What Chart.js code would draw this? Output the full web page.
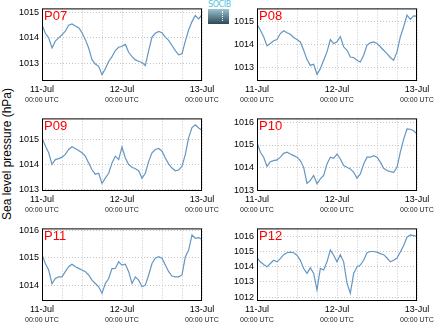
<!DOCTYPE html>
<html>
<head>
<meta charset="utf-8">
<script src="https://cdn.jsdelivr.net/npm/chart.js@4.4.1/dist/chart.umd.min.js"></script>
<style>
  body { margin: 0; background: #fff; width: 435px; height: 327px; position: relative; overflow: hidden; font-family: "Liberation Sans", Arial, sans-serif; }
  .panel { position: absolute; width: 212px; height: 110px; }
  #ylabel { position: absolute; left: 7px; top: 154px; transform: translate(-50%, -50%) rotate(-90deg); font-size: 12px; white-space: nowrap; color: #000; }
  #logo { position: absolute; left: 208px; top: 1px; width: 21px; }
  #logo span { display: block; font: 8px "DejaVu Sans", sans-serif; line-height: 8px; color: #4cc4e0; text-align: center; letter-spacing: -0.4px; }
  #logo div { position: relative; height: 15px; background: linear-gradient(#9cc3cf, #2c4758); }
  #logo div::after { content: ""; position: absolute; left: 14px; top: 2px; height: 10px; border-left: 1px dotted #fff; }
</style>
</head>
<body>
<div id="ylabel">Sea level pressure (hPa)</div>
<div id="logo"><span>SOCIB</span><div></div></div>
<canvas class="panel" id="c0" width="212" height="110" style="left:15px;top:0px"></canvas>
<canvas class="panel" id="c1" width="212" height="110" style="left:230px;top:0px"></canvas>
<canvas class="panel" id="c2" width="212" height="110" style="left:15px;top:110px"></canvas>
<canvas class="panel" id="c3" width="212" height="110" style="left:230px;top:110px"></canvas>
<canvas class="panel" id="c4" width="212" height="110" style="left:15px;top:220px"></canvas>
<canvas class="panel" id="c5" width="212" height="110" style="left:230px;top:220px"></canvas>
<script>
// hours since 11-Jul 00:00 UTC
const hours = [0,1,2,3,4,5,6,7,8,9,10,11,12,13,14,15,16,17,18,19,20,21,22,23,24,
  25,26,27,28,29,30,31,32,33,34,35,36,37,38,39,40,41,42,43,44,45,46,47,48];
const gridHours = [0, 6, 12, 18, 24, 30, 36, 42, 48];
const dayHours = [0, 24, 48];
const dayLabels = ['11-Jul', '12-Jul', '13-Jul'];
const timeLabel = '00:00 UTC';
const stations = ['P07', 'P08', 'P09', 'P10', 'P11', 'P12'];

// sea level pressure, hPa, hourly
const p07 = [1014.53,1014.18,1014.00,1013.60,1013.87,1014.00,1014.12,1014.26,1014.50,1014.55,
  1014.47,1014.40,1014.20,1013.93,1013.60,1013.14,1012.97,1012.88,1012.55,1012.78,
  1013.07,1013.26,1013.50,1013.63,1013.67,1013.74,1013.43,1013.26,1013.13,1013.08,
  1013.03,1012.91,1013.50,1014.03,1014.18,1014.25,1014.20,1014.03,1013.90,1013.70,
  1013.50,1013.33,1013.37,1013.87,1014.32,1014.64,1014.88,1014.75,1014.91];
const p08 = [1014.88,1014.63,1014.34,1013.95,1014.05,1014.17,1014.22,1014.48,1014.60,1014.51,
  1014.45,1014.31,1014.22,1014.12,1013.76,1013.36,1013.11,1013.16,1012.73,1012.97,
  1013.33,1013.69,1014.22,1014.05,1014.12,1014.35,1013.91,1013.76,1013.47,1013.45,
  1013.33,1013.26,1013.55,1013.98,1014.08,1014.12,1014.05,1013.91,1013.76,1013.62,
  1013.45,1013.33,1013.69,1014.34,1014.77,1015.27,1015.09,1015.24,1015.23];
const p09 = [1015.08,1014.74,1014.47,1014.00,1014.19,1014.23,1014.29,1014.40,1014.60,1014.71,
  1014.64,1014.56,1014.47,1014.33,1014.05,1013.78,1013.60,1013.64,1013.23,1013.44,
  1013.64,1014.05,1014.33,1014.19,1014.70,1014.26,1013.99,1013.88,1013.82,1013.74,
  1013.44,1013.64,1014.12,1014.47,1014.60,1014.64,1014.53,1014.26,1014.01,1013.85,
  1013.74,1013.77,1013.92,1014.40,1015.08,1015.49,1015.60,1015.47,1015.38];
const p10 = [1015.12,1014.68,1014.46,1014.05,1014.26,1014.31,1014.34,1014.46,1014.63,1014.68,
  1014.60,1014.53,1014.46,1014.31,1014.01,1013.30,1013.43,1013.65,1013.28,1013.50,
  1013.65,1014.16,1014.46,1014.41,1014.60,1014.38,1014.09,1014.01,1013.94,1013.79,
  1013.53,1013.72,1014.16,1014.46,1014.46,1014.53,1014.46,1014.24,1013.97,1013.87,
  1013.82,1013.79,1014.01,1014.68,1015.26,1015.71,1015.70,1015.63,1015.49];
const p11 = [1015.12,1014.79,1014.55,1014.05,1014.24,1014.30,1014.30,1014.49,1014.67,1014.76,
  1014.67,1014.61,1014.55,1014.49,1014.37,1014.18,1014.06,1013.94,1013.70,1014.06,
  1014.24,1014.60,1014.61,1014.85,1014.73,1014.76,1014.49,1014.06,1014.30,1014.18,
  1013.94,1014.00,1014.37,1014.79,1014.98,1015.04,1014.98,1014.73,1014.49,1014.33,
  1014.30,1014.30,1014.37,1015.04,1015.28,1015.83,1015.71,1015.73,1015.68];
const p12 = [1014.57,1014.32,1014.14,1013.99,1014.21,1014.42,1014.32,1014.53,1014.79,1014.92,
  1014.96,1014.92,1014.75,1014.42,1013.88,1013.56,1013.93,1013.56,1012.48,1013.88,
  1013.78,1014.32,1015.10,1014.75,1014.32,1014.79,1014.32,1012.91,1012.25,1013.56,
  1013.99,1014.10,1014.42,1014.92,1015.00,1015.00,1014.96,1014.86,1014.79,1014.57,
  1014.32,1014.42,1014.57,1014.96,1015.40,1015.94,1016.09,1016.04,1016.00];
const series = [p07, p08, p09, p10, p11, p12];

// y-axis limits per station
const yMin = [1012.30, 1012.44, 1012.92, 1012.96, 1013.42, 1011.74];
const yMax = [1015.16, 1015.56, 1015.86, 1016.18, 1016.07, 1016.52];

const family = '"Liberation Sans", Arial, sans-serif';
const tickFont = { family: family, size: 9 };

// whole hPa values inside the axis range
function wholeTicks(s) {
  const out = [];
  for (let v = Math.ceil(s.min); v <= Math.floor(s.max); v++) out.push({ value: v });
  s.ticks = out;
}

// black box round the plot plus the station name in the corner
const framePlugin = {
  id: 'frame',
  afterDatasetsDraw(chart, args, opts) {
    const { ctx, chartArea: a } = chart;
    ctx.save();
    ctx.strokeStyle = '#000';
    ctx.lineWidth = 1;
    ctx.strokeRect(a.left + 0.5, a.top + 0.5, a.width - 1, a.height - 1);
    ctx.fillStyle = '#ff0000';
    ctx.font = '13px ' + family;
    ctx.textBaseline = 'alphabetic';
    ctx.fillText(opts.name, a.left + 2, a.top + 12);
    ctx.restore();
  }
};

series.forEach(function (vals, i) {
  new Chart(document.getElementById('c' + i), {
    type: 'line',
    data: {
      datasets: [{
        data: hours.map((h, k) => ({ x: h, y: vals[k] })),
        borderColor: '#6496c3',
        borderWidth: 1.2,
        pointRadius: 0,
        tension: 0,
        fill: false
      }]
    },
    options: {
      responsive: false,
      animation: false,
      layout: { padding: { top: 8, right: 25, bottom: 3, left: 0 } },
      plugins: { legend: { display: false }, tooltip: { enabled: false }, frame: { name: stations[i] } },
      scales: {
        x: {
          type: 'linear', min: 0, max: 48, position: 'bottom', weight: 0,
          afterFit: s => { s.height = 14; },
          afterBuildTicks: s => { s.ticks = gridHours.map(v => ({ value: v })); },
          grid: { color: '#c4c4c4', lineWidth: 1, drawTicks: false },
          border: { display: false, dash: [1, 2] },
          ticks: {
            autoSkip: false, maxRotation: 0, padding: 3, color: '#000', font: tickFont,
            callback: v => (dayHours.includes(v) ? dayLabels[dayHours.indexOf(v)] : '')
          }
        },
        x2: {
          type: 'linear', min: 0, max: 48, position: 'bottom', weight: 1,
          afterFit: s => { s.height = 12; },
          afterBuildTicks: s => { s.ticks = dayHours.map(v => ({ value: v })); },
          grid: { display: false, drawTicks: false },
          border: { display: false },
          ticks: {
            autoSkip: false, maxRotation: 0, padding: 1, color: '#222',
            font: { family: family, size: 7 },
            callback: () => timeLabel
          }
        },
        y: {
          min: yMin[i], max: yMax[i],
          afterFit: s => { s.width = 27; },
          afterBuildTicks: wholeTicks,
          grid: { color: '#c4c4c4', lineWidth: 1, drawTicks: false },
          border: { display: false, dash: [1, 2] },
          ticks: { padding: 3, color: '#000', font: tickFont, callback: v => String(v) }
        }
      }
    },
    plugins: [framePlugin]
  });
});
</script>
</body>
</html>
